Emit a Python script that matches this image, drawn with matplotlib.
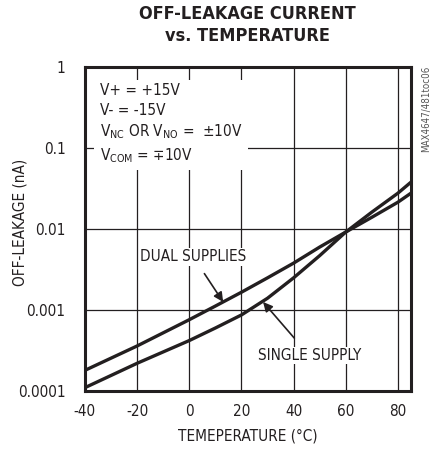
import numpy as np
import matplotlib.pyplot as plt
from matplotlib.ticker import FixedLocator, NullLocator

plt.rcParams['font.family'] = ['DejaVu Sans']
plt.rcParams['font.stretch'] = 'condensed'
plt.rcParams['axes.unicode_minus'] = False
plt.rcParams['mathtext.fontset'] = 'custom'
plt.rcParams['mathtext.rm'] = 'DejaVu Sans:stretch=condensed'
plt.rcParams['mathtext.it'] = 'DejaVu Sans:stretch=condensed'

# curve data
temp = [-40, -20, 0, 10, 20, 30, 40, 50, 60, 70, 80, 85]
dual_supplies = [1.8e-4, 3.6e-4, 7.6e-4, 1.12e-3, 1.66e-3, 2.5e-3, 3.8e-3,
  6.0e-3, 9.2e-3, 0.014, 0.0215, 0.0278]
single_supply = [1.1e-4, 2.2e-4, 4.2e-4, 6.0e-4, 8.7e-4, 1.4e-3, 2.5e-3,
  4.7e-3, 9.2e-3, 0.0162, 0.0278, 0.038]

x_ticks = [-40, -20, 0, 20, 40, 60, 80]
y_ticks = [1e-4, 1e-3, 1e-2, 1e-1, 1]
y_tick_labels = ['0.0001', '0.001', '0.01', '0.1', '1']

ink = '#231f20'

fig = plt.figure(figsize=(4.4, 4.51), dpi=100)
ax = fig.add_axes([0.193, 0.133, 0.741, 0.718])

ax.plot(temp, dual_supplies, c=ink, lw=2.4, zorder=3)
ax.plot(temp, single_supply, c=ink, lw=2.4, zorder=3)

ax.set_yscale('log')
ax.set_xlim(-40, 85)
ax.set_ylim(1e-4, 1)
ax.xaxis.set_major_locator(FixedLocator(x_ticks))
ax.yaxis.set_major_locator(FixedLocator(y_ticks))
ax.yaxis.set_minor_locator(NullLocator())
ax.set_yticklabels(y_tick_labels)
ax.tick_params(length=0, labelsize=11, colors=ink)
ax.tick_params(axis='y', pad=14)
ax.tick_params(axis='x', pad=9)
ax.grid(True, c=ink, lw=0.9, zorder=1)
for s in ax.spines.values():
  s.set_linewidth(2.2)
  s.set_color(ink)

ax.set_xlabel('TEMEPERATURE (°C)', fontsize=11, color=ink, labelpad=7)
ax.set_ylabel('OFF-LEAKAGE (nA)', fontsize=11, color=ink)
ax.yaxis.set_label_coords(-0.175, 0.52)
fig.suptitle('OFF-LEAKAGE CURRENT\nvs. TEMPERATURE', x=0.562, y=0.99,
  fontsize=13, fontweight='bold', color=ink, linespacing=1.35)

cond = ('V+ = +15V\nV- = -15V\n'
  r'V$_{\mathrm{NC}}$ OR V$_{\mathrm{NO}}$ =  ±10V' '\n'
  r'V$_{\mathrm{COM}}$ = ∓10V')
ax.text(0.045, 0.95, cond, transform=ax.transAxes, va='top', ha='left',
  fontsize=11, color=ink, linespacing=1.35, zorder=4,
  bbox=dict(fc='white', ec='none', pad=4))

ax.annotate('DUAL SUPPLIES', xy=(13, 10**-2.9), xytext=(1.5, 10**-2.34),
  fontsize=11, color=ink, ha='center', va='center', zorder=4,
  bbox=dict(fc='white', ec='none', pad=1),
  arrowprops=dict(arrowstyle='-|>', color=ink, lw=1.2,
    mutation_scale=14, shrinkA=7, shrinkB=0))
ax.annotate('SINGLE SUPPLY', xy=(28.3, 10**-2.9), xytext=(46, 10**-3.56),
  fontsize=11, color=ink, ha='center', va='center', zorder=4,
  bbox=dict(fc='white', ec='none', pad=1),
  arrowprops=dict(arrowstyle='-|>', color=ink, lw=1.2,
    mutation_scale=14, shrinkA=8, shrinkB=0))

fig.text(0.968, 0.855, 'MAX4647/481toc06', rotation=90, ha='center', va='top',
  fontsize=7, color='#555555')

fig.savefig('out.png', dpi=100)
